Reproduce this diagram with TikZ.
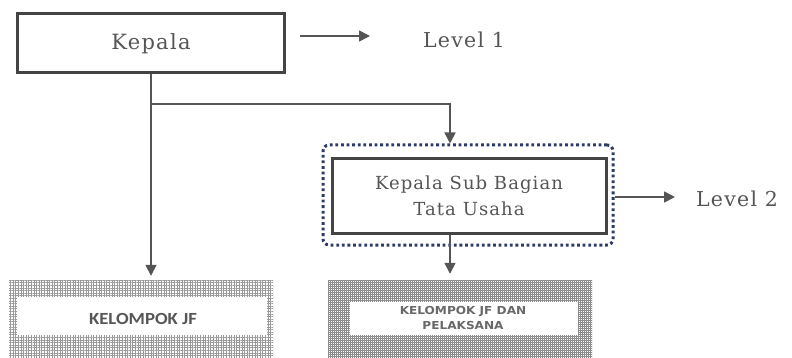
\documentclass[tikz,border=0pt]{standalone}
\usepackage{fontspec}
\setmainfont{DejaVu Serif}[LetterSpace=6]
\newfontfamily\boxfont{Carlito}
\newfontfamily\widefont{DejaVu Sans}
\usetikzlibrary{arrows.meta,patterns.meta}
\definecolor{linegray}{HTML}{555555}
\definecolor{boxgray}{HTML}{444444}
\definecolor{textgray}{HTML}{555555}
\definecolor{navy}{HTML}{2E3A66}
\tikzset{
  mainbox/.style={draw=boxgray, line width=3pt, fill=white, inner sep=0pt, text=textgray},
  conn/.style={draw=linegray, line width=1.6pt},
  arr/.style={conn, -{Triangle[width=11pt,length=11pt]}},
  lvl/.style={text=textgray, font=\fontsize{20.5}{24}\selectfont, inner sep=0pt},
  hatchbox/.style={pattern={Hatch[angle=0,distance=2.6pt,line width=0.55pt]}, pattern color=gray!80},
  hatchdense/.style={pattern={Hatch[angle=0,distance=2.0pt,line width=0.6pt]}, pattern color=gray!90},
  jftext/.style={text=boxgray!90, inner sep=0pt, align=center}
}
\begin{document}
\begin{tikzpicture}[x=1pt,y=-1pt]
\useasboundingbox (0,0) rectangle (792,358);
% top box
\node[mainbox, minimum width=267pt, minimum height=59pt, font=\fontsize{21}{24}\selectfont] (kepala) at (151,43.5) {Kepala};
\coordinate (l1a) at (300,36);
\coordinate (l1b) at (370,36);
\draw[arr] (l1a) -- (l1b);
\node[lvl] (lvl1) at (464,40) {Level 1};
% dotted frame and sub box
\node[draw=navy, line width=3pt, dash pattern=on 2.8pt off 2.8pt, rounded corners=6pt, minimum width=290pt, minimum height=100pt, inner sep=0pt] (frame) at (468,195) {};
\node[mainbox, minimum width=274pt, minimum height=74pt, align=center, font=\fontsize{18}{26}\selectfont] (sub) at (469,196) {Kepala Sub Bagian\\Tata Usaha};
\coordinate (l2b) at (675,197);
\draw[arr] (frame.east |- l2b) -- (l2b);
\node[lvl] (lvl2) at (737,199) {Level 2};
% bottom boxes
\fill[hatchbox] (9,280) rectangle (273,358);
\fill[white] (17,297) rectangle (267,335);
\node[inner sep=0pt, minimum width=264pt, minimum height=78pt] (jf) at (141,319) {};
\node[jftext, font=\boxfont\bfseries\fontsize{17}{20}\selectfont] (jftxt) at (143,319) {\scalebox{1.1}[1]{KELOMPOK JF}};
\fill[hatchdense] (328,280) rectangle (592,358);
\fill[white] (350,302) rectangle (578,335);
\node[inner sep=0pt, minimum width=264pt, minimum height=78pt] (jfd) at (460,319) {};
\node[jftext, text=boxgray!80, font=\widefont\bfseries\fontsize{11}{15}\selectfont] (jfdtxt) at (463,318) {\scalebox{1.1}[1]{\shortstack{KELOMPOK JF DAN\\[1pt]PELAKSANA}}};
% connectors
\coordinate (j) at (151,104);
\coordinate (k) at (450,104);
\draw[arr, shorten >=4pt] (kepala.south -| j) -- (jf.north -| j);
\draw[arr] (j) -- (k) -- (frame.north -| k);
\draw[arr, shorten >=6pt] (sub.south -| k) -- (jfd.north -| k);
\end{tikzpicture}
\end{document}
